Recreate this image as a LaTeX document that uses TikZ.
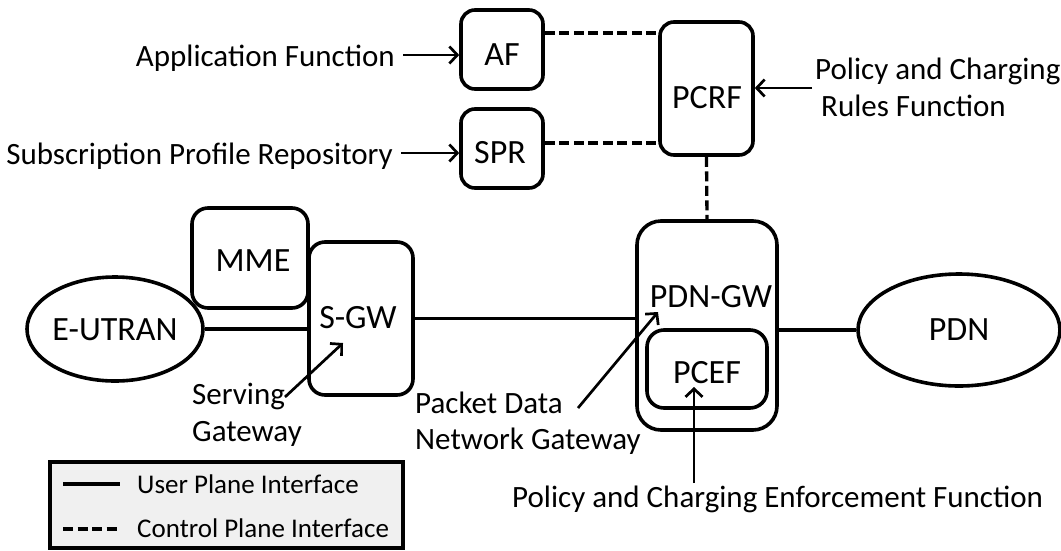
\documentclass[tikz,border=0pt]{standalone}
\usepackage{fontspec}
\setmainfont{Carlito}
\usetikzlibrary{arrows.meta,shapes.geometric,calc}

\begin{document}
\begin{tikzpicture}[x=1pt,y=-1pt,
  box/.style={draw,line width=3.6pt,rounded corners=14pt,inner sep=0pt},
  oval/.style={draw,ellipse,line width=3.6pt,inner sep=0pt},
  boxtext/.style={font=\fontsize{34}{40}\selectfont,inner sep=0pt},
  lbl/.style={font=\fontsize{31}{37}\selectfont,inner sep=0pt},
  keytext/.style={font=\fontsize{27}{32}\selectfont,inner sep=0pt},
  userline/.style={line width=3.3pt},
  ctrlline/.style={line width=3.3pt,dash pattern=on 10pt off 4.5pt},
  pointer/.style={line width=2.7pt,-{Straight Barb[length=8pt,width=17pt,line width=2.7pt]}},
]
\useasboundingbox (0,0) rectangle (1061,550);

% legend panel
\node[draw,line width=3.4pt,fill=black!6,inner sep=0pt,
      minimum width=353pt,minimum height=86pt] (legend) at (226.5,505) {};

% network elements
\node[box,minimum width=82pt,minimum height=79pt] (AF) at (502,49.5) {};
\node[box,minimum width=82pt,minimum height=79pt] (SPR) at (502,148.5) {};
\node[box,minimum width=93pt,minimum height=133pt] (PCRF) at (706.5,88.5) {};
\node[box,rounded corners=16pt,minimum width=116pt,minimum height=100pt] (MME) at (250,258) {};
\node[box,rounded corners=16pt,minimum width=104pt,minimum height=153pt] (SGW) at (361,318.5) {};
\node[box,rounded corners=24pt,minimum width=140pt,minimum height=209pt] (PGW) at (707,325.5) {};
\node[box,rounded corners=17pt,minimum width=120pt,minimum height=78pt] (PCEF) at (707,369) {};
\node[oval,minimum width=176pt,minimum height=104pt] (EUT) at (115,329) {};
\node[oval,minimum width=202pt,minimum height=112pt] (PDN) at (959,330) {};

% element names
\node[boxtext] (AFt) at (502,55) {AF};
\node[boxtext] (SPRt) at (500,153) {SPR};
\node[boxtext] (PCRFt) at (707,98) {PCRF};
\node[boxtext] (MMEt) at (253,261) {MME};
\node[boxtext] (SGWt) at (358,318) {S-GW};
\node[boxtext] (EUTt) at (115,330) {E-UTRAN};
\node[boxtext] (PGWt) at (711,297) {PDN-GW};
\node[boxtext] (PCEFt) at (707,373) {PCEF};
\node[boxtext] (PDNt) at (959,330) {PDN};

% explanatory labels
\node[lbl,anchor=base east] (appl) at (395,66) {Application Function};
\node[lbl,anchor=base east] (subs) at (393,164) {Subscription Profile Repository};
\node[lbl,anchor=base west] (pol1) at (815,79) {Policy and Charging};
\node[lbl,anchor=base west] (pol2) at (821,116) {Rules Function};
\node[lbl,anchor=base west] (serv1) at (192,404) {Serving};
\node[lbl,anchor=base west] (serv2) at (192,441) {Gateway};
\node[lbl,anchor=base west] (pack1) at (415,413) {Packet Data};
\node[lbl,anchor=base west] (pack2) at (415,449) {Network Gateway};
\node[lbl,anchor=base west] (pcefl) at (512,507) {Policy and Charging Enforcement Function};

% user plane interfaces
\draw[userline] (EUT.east) -- (EUT.east -| SGW.west);
\draw[userline] (SGW.east) -- (SGW.east -| PGW.west);
\draw[userline] (PDN.west -| PGW.east) -- (PDN.west);

% control plane interfaces
\draw[ctrlline] (AF.east |- 0,33) -- (PCRF.west |- 0,33);
\draw[ctrlline] (SPR.east |- 0,143) -- (PCRF.west |- 0,143);
\draw[ctrlline] (PCRF.south) -- (PGW.north);

% label pointers
\coordinate (applTail) at (403,55);
\coordinate (subsTail) at (401,153);
\coordinate (polTail) at (812,88);
\coordinate (servTail) at (285,397);
\coordinate (servTip) at (343,343);
\coordinate (packTail) at (578,408);
\coordinate (packTip) at (658,312);
\coordinate (pcefTail) at (694,483);
\coordinate (pcefTip) at (694,387);
\draw[pointer] (applTail) -- (applTail -| AF.west);
\draw[pointer] (subsTail) -- (subsTail -| SPR.west);
\draw[pointer] (polTail) -- (polTail -| PCRF.east);
\draw[pointer] (servTail) -- (servTip);
\draw[pointer] (packTail) -- (packTip);
\draw[pointer] (pcefTail) -- (pcefTip);

% legend entries
\coordinate (userA) at (63,484);
\coordinate (userB) at (120,484);
\coordinate (ctrlA) at (63,529);
\coordinate (ctrlB) at (120,529);
\draw[userline] (userA) -- (userB);
\draw[ctrlline] (ctrlA) -- (ctrlB);
\node[keytext,anchor=base west] (userkey) at (137,493) {User Plane Interface};
\node[keytext,anchor=base west] (ctrlkey) at (137,537) {Control Plane Interface};
\end{tikzpicture}
\end{document}
